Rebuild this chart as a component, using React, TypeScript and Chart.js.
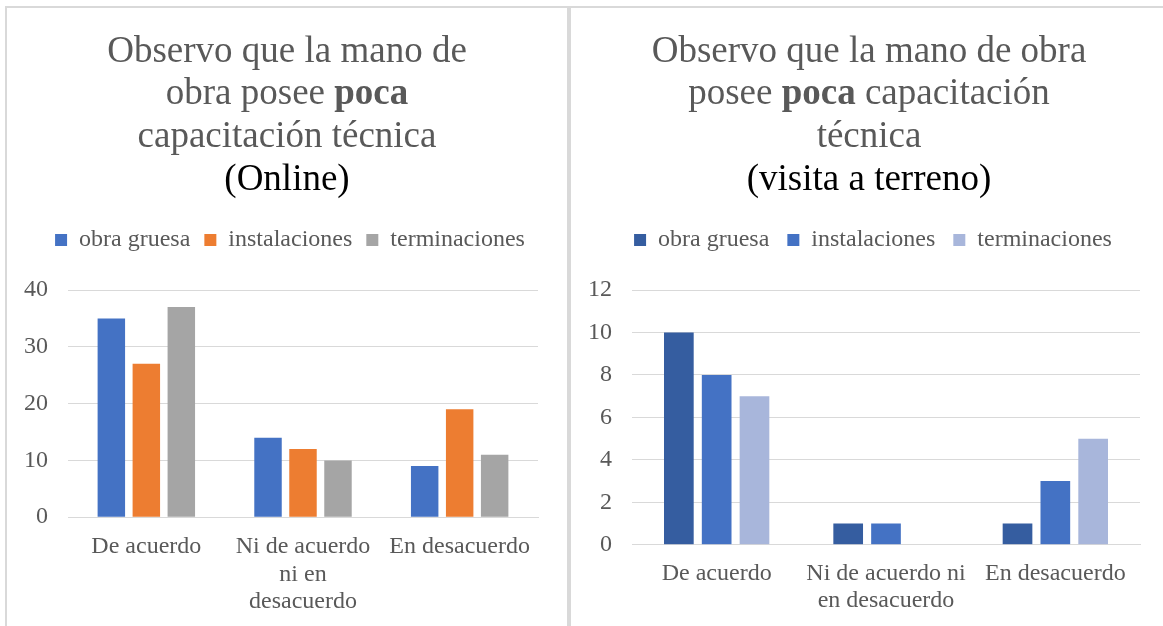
import React, { useEffect, useRef } from "react";
import { Chart, registerables } from "chart.js";

Chart.register(...registerables);

// ---------- data ----------
const seriesNames = ["obra gruesa", "instalaciones", "terminaciones"];

const onlineCategories = [["De acuerdo"], ["Ni de acuerdo", "ni en", "desacuerdo"], ["En desacuerdo"]];
const onlineObraGruesa = [35, 14, 9];
const onlineInstalaciones = [27, 12, 19];
const onlineTerminaciones = [37, 10, 11];
const onlineYMax = 40;
const onlineYStep = 10;

const terrenoCategories = [["De acuerdo"], ["Ni de acuerdo ni", "en desacuerdo"], ["En desacuerdo"]];
const terrenoObraGruesa = [10, 1, 1];
const terrenoInstalaciones = [8, 1, 3];
const terrenoTerminaciones = [7, 0, 5];
const terrenoYMax = 12;
const terrenoYStep = 2;

type Seg = { t: string; bold?: boolean; color?: string };
const onlineTitle: Seg[][] = [
  [{ t: "Observo que la mano de" }],
  [{ t: "obra posee " }, { t: "poca", bold: true }],
  [{ t: "capacitación técnica" }],
  [{ t: "(Online)", color: "#000000" }],
];
const terrenoTitle: Seg[][] = [
  [{ t: "Observo que la mano de obra" }],
  [{ t: "posee " }, { t: "poca", bold: true }, { t: " capacitación" }],
  [{ t: "técnica" }],
  [{ t: "(visita a terreno)", color: "#000000" }],
];

// ---------- styles ----------
const onlineColors = ["#4472C4", "#ED7D31", "#A5A5A5"];
const terrenoColors = ["#355DA0", "#4472C4", "#A8B6DB"];
const FAMILY = "'Liberation Serif', 'Times New Roman', serif";
const TEXT = "#595959";
const GRID = "#D9D9D9";
const BORDER = "#D9D9D9";
const LABEL_SIZE = 24;
const LABEL_LH = 1.15;

const richTitlePlugin = {
  id: "richTitle",
  afterDraw(chart: any, _args: any, opts: any) {
    const lines: Seg[][] = opts.lines || [];
    const baselines: number[] = opts.baselines || [];
    const ctx = chart.ctx as CanvasRenderingContext2D;
    const cx = chart.width / 2 + (opts.dx || 0);
    ctx.save();
    ctx.textBaseline = "alphabetic";
    ctx.textAlign = "left";
    lines.forEach((line, i) => {
      let total = 0;
      const widths = line.map((s) => {
        ctx.font = `${s.bold ? "bold " : ""}${opts.size}px ${FAMILY}`;
        const w = ctx.measureText(s.t).width;
        total += w;
        return w;
      });
      let x = cx - total / 2;
      line.forEach((s, j) => {
        ctx.font = `${s.bold ? "bold " : ""}${opts.size}px ${FAMILY}`;
        ctx.fillStyle = s.color || TEXT;
        ctx.fillText(s.t, x, baselines[i]);
        x += widths[j];
      });
    });
    ctx.restore();
  },
};

// shifts the legend box horizontally after layout (keeps its width)
const legendShiftPlugin = {
  id: "legendShift",
  afterLayout(chart: any, _args: any, opts: any) {
    const l = chart.legend;
    if (l && opts.dx) {
      l.left += opts.dx;
      l.right += opts.dx;
    }
  },
};

type PanelProps = {
  width: number;
  height: number;
  categories: string[][];
  series: number[][];
  colors: string[];
  yMax: number;
  yStep: number;
  title: Seg[][];
  padding: { left: number; right: number; top: number; bottom: number };
  xPad: number;
  yAxisWidth: number;
  titleDx: number;
  legendDx: number;
  legendPad: number;
};

function BarPanel(p: PanelProps) {
  const ref = useRef<HTMLCanvasElement>(null);
  useEffect(() => {
    const maxLines = Math.max(...p.categories.map((c) => c.length));
    const chart = new Chart(ref.current!, {
      type: "bar",
      data: {
        labels: p.categories,
        datasets: p.series.map((s, i) => ({
          label: seriesNames[i],
          data: s,
          backgroundColor: p.colors[i],
          borderWidth: 0,
          categoryPercentage: 0.67,
          barPercentage: 0.785,
        })),
      },
      options: {
        responsive: false,
        animation: false,
        devicePixelRatio: 1,
        layout: { padding: p.padding },
        plugins: {
          title: { display: false },
          tooltip: { enabled: false },
          legend: {
            display: true,
            position: "top",
            labels: {
              boxWidth: 12,
              boxHeight: 12,
              padding: p.legendPad,
              color: TEXT,
              font: { family: FAMILY, size: LABEL_SIZE },
            },
          },
          subtitle: {
            display: true,
            text: "",
            weight: 500,
            padding: { top: 28, bottom: 0 },
            font: { size: 1, lineHeight: 0 },
          },
          richTitle: {
            lines: p.title,
            baselines: [54, 96, 139, 182],
            size: 37,
            dx: p.titleDx,
          },
          legendShift: { dx: p.legendDx },
        } as any,
        scales: {
          x: {
            grid: { display: false, drawTicks: false },
            border: { display: true, color: GRID, width: 1 },
            ticks: {
              padding: p.xPad,
              color: TEXT,
              maxRotation: 0,
              autoSkip: false,
              font: { family: FAMILY, size: LABEL_SIZE, lineHeight: LABEL_LH },
            },
            afterFit: (scale: any) => {
              scale.height = p.xPad + maxLines * LABEL_SIZE * LABEL_LH;
            },
          },
          y: {
            min: 0,
            max: p.yMax,
            ticks: {
              stepSize: p.yStep,
              padding: 20,
              color: TEXT,
              font: { family: FAMILY, size: LABEL_SIZE },
            },
            grid: { color: GRID, lineWidth: 1, drawTicks: false },
            border: { display: false },
            afterFit: (scale: any) => {
              scale.width = p.yAxisWidth;
            },
          },
        },
      },
      plugins: [richTitlePlugin, legendShiftPlugin],
    });
    return () => chart.destroy();
  }, []);
  return (
    <canvas
      ref={ref}
      width={p.width}
      height={p.height}
      style={{ display: "block", width: p.width, height: p.height }}
    />
  );
}

export default function App() {
  return (
    <div
      style={{
        position: "fixed",
        left: 0,
        top: 0,
        width: 1163,
        height: 626,
        background: "#ffffff",
        overflow: "hidden",
      }}
    >
      <div
        style={{
          position: "absolute",
          left: 5,
          top: 6,
          width: 560,
          height: 640,
          borderTop: `2px solid ${BORDER}`,
          borderLeft: `2px solid ${BORDER}`,
          borderRight: `2px solid ${BORDER}`,
        }}
      >
        <BarPanel
          width={560}
          height={618}
          categories={onlineCategories}
          series={[onlineObraGruesa, onlineInstalaciones, onlineTerminaciones]}
          colors={onlineColors}
          yMax={onlineYMax}
          yStep={onlineYStep}
          title={onlineTitle}
          padding={{ left: 17, right: 29, top: 206, bottom: 10 }}
          xPad={16}
          yAxisWidth={44}
          titleDx={0}
          legendDx={9}
          legendPad={14}
        />
      </div>
      <div
        style={{
          position: "absolute",
          left: 569,
          top: 6,
          width: 600,
          height: 640,
          borderTop: `2px solid ${BORDER}`,
          borderLeft: `2px solid ${BORDER}`,
        }}
      >
        <BarPanel
          width={592}
          height={618}
          categories={terrenoCategories}
          series={[terrenoObraGruesa, terrenoInstalaciones, terrenoTerminaciones]}
          colors={terrenoColors}
          yMax={terrenoYMax}
          yStep={terrenoYStep}
          title={terrenoTitle}
          padding={{ left: 17, right: 23, top: 202, bottom: 11 }}
          xPad={15}
          yAxisWidth={44}
          titleDx={2}
          legendDx={9}
          legendPad={18}
        />
      </div>
    </div>
  );
}
